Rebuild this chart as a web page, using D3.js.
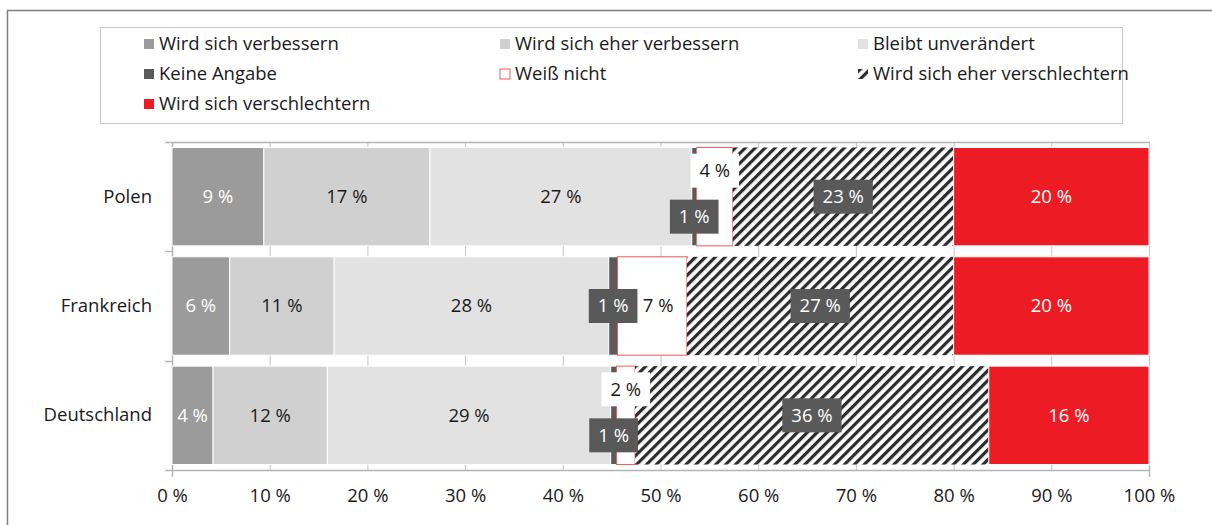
<!DOCTYPE html>
<html>
<head>
<meta charset="utf-8">
<script src="https://cdn.jsdelivr.net/npm/d3@7"></script>
<style>
    body { margin: 0; background: #fff; }
    svg { display: block; font-family: "Open Sans", sans-serif; }
</style>
</head>
<body>
<svg class="chart"></svg>
<script>
// categories and series (percent of respondents)
var categories = ["Polen", "Frankreich", "Deutschland"];
var seriesNames = ["Wird sich verbessern", "Wird sich eher verbessern", "Bleibt unverändert",
    "Keine Angabe", "Weiß nicht", "Wird sich eher verschlechtern", "Wird sich verschlechtern"];

var verbessern = [9.4, 5.9, 4.2];
var eherVerbessern = [17.0, 10.7, 11.7];
var unveraendert = [26.8, 28.1, 29.0];
var keineAngabe = [0.5, 0.9, 0.6];
var weissNicht = [3.7, 7.1, 1.9];
var eherVerschlechtern = [22.6, 27.3, 36.2];
var verschlechtern = [20.0, 20.0, 16.4];

var tickValues = [0, 10, 20, 30, 40, 50, 60, 70, 80, 90, 100];

var width = 1212;
var height = 525;
var fontSize = 18.5;

var seriesData = [verbessern, eherVerbessern, unveraendert, keineAngabe, weissNicht, eherVerschlechtern, verschlechtern];

// look of each series: fill, stroke, label text colour, label box
var looks = [
    { fill: "#9b9b9b", stroke: "#fff", text: "#fff", box: null },
    { fill: "#d0d0d0", stroke: "#fff", text: "#1a1a1a", box: null },
    { fill: "#e2e2e2", stroke: "#fff", text: "#1a1a1a", box: null },
    { fill: "#5a5a5a", stroke: "#fff", text: "#fff", box: "#595959" },
    { fill: "#fff", stroke: "#f0585c", text: "#1a1a1a", box: "#fff" },
    { fill: "url(#hatch)", stroke: "none", text: "#fff", box: "#595959" },
    { fill: "#ed1c24", stroke: "#fff", text: "#fff", box: null }
];

var rows = categories.map(function(c, i) {
    var r = { cat: c };
    seriesNames.forEach(function(s, j) { r[s] = seriesData[j][i]; });
    return r;
});

var stacked = d3.stack().keys(seriesNames)(rows);

var chart = d3.select(".chart")
    .attr("width", width)
    .attr("height", height);

var defs = chart.append("defs");
var hatch = defs.append("pattern")
    .attr("id", "hatch")
    .attr("width", 7)
    .attr("height", 7)
    .attr("patternUnits", "userSpaceOnUse")
    .attr("patternTransform", "rotate(45)");
hatch.append("rect").attr("width", 7).attr("height", 7).attr("fill", "#fff");
hatch.append("rect").attr("width", 3.2).attr("height", 7).attr("fill", "#2b2b2b");

// outer frame
chart.append("rect")
    .attr("x", 7.5).attr("y", 10.5)
    .attr("width", 1240).attr("height", 540)
    .attr("fill", "none")
    .attr("stroke", "#7f7f7f")
    .attr("stroke-width", 1.5);

var x = d3.scaleLinear().domain([0, 100]).range([172, 1149]);
var y = d3.scaleBand().domain(categories).range([142, 470])
    .paddingInner(0.1).paddingOuter(0.05);

// vertical gridlines behind the bars
chart.append("g").selectAll("line.grid")
    .data(tickValues)
    .enter()
    .append("line")
    .attr("class", "grid")
    .attr("x1", function(d) { return x(d) + 0.5; })
    .attr("x2", function(d) { return x(d) + 0.5; })
    .attr("y1", 142).attr("y2", 470)
    .attr("stroke", "#c4c4c4");

// frame lines of the plot
var axisCol = "#b4b4b4";
chart.append("line").attr("x1", 165).attr("x2", x(100) + 1).attr("y1", 142.5).attr("y2", 142.5)
    .attr("stroke", axisCol).attr("stroke-width", 1.5);
chart.append("line").attr("x1", 165).attr("x2", x(100) + 1).attr("y1", 470.5).attr("y2", 470.5)
    .attr("stroke", axisCol).attr("stroke-width", 1.5);
chart.append("line").attr("x1", x(0) + 0.5).attr("x2", x(0) + 0.5).attr("y1", 142).attr("y2", 477)
    .attr("stroke", axisCol).attr("stroke-width", 1.5);
chart.append("line").attr("x1", x(100) + 0.5).attr("x2", x(100) + 0.5).attr("y1", 466).attr("y2", 477)
    .attr("stroke", axisCol).attr("stroke-width", 1.5);

// ticks between categories
var bounds = categories.slice(1).map(function(c) { return y(c) - y.step() * y.paddingInner() / 2; });
chart.append("g").selectAll("line")
    .data(bounds)
    .enter()
    .append("line")
    .attr("x1", 165).attr("x2", x(0))
    .attr("y1", function(d) { return Math.round(d) + 0.5; })
    .attr("y2", function(d) { return Math.round(d) + 0.5; })
    .attr("stroke", axisCol).attr("stroke-width", 1.5);

// bars
var layers = chart.append("g").selectAll("g.layer")
    .data(stacked)
    .enter()
    .append("g")
    .attr("class", "layer");

layers.selectAll("rect")
    .data(function(d) { return d.map(function(p) { return { p: p, i: d.index }; }); })
    .enter()
    .append("rect")
    .attr("x", function(d) { return x(d.p[0]); })
    .attr("y", function(d) { return y(d.p.data.cat); })
    .attr("width", function(d) { return x(d.p[1]) - x(d.p[0]); })
    .attr("height", y.bandwidth())
    .attr("fill", function(d) { return looks[d.i].fill; })
    .attr("stroke", function(d) { return looks[d.i].stroke; })
    .attr("stroke-width", 1);

// labels; the narrow "Weiß nicht" / "Keine Angabe" pair is moved apart
var labelG = chart.append("g").attr("font-size", fontSize);
var order = [0, 1, 2, 5, 6, 4, 3];

categories.forEach(function(c, ci) {
    var cy = y(c) + y.bandwidth() / 2;
    var keineMid = x((stacked[3][ci][0] + stacked[3][ci][1]) / 2);
    var narrow = weissNicht[ci] < 5;
    order.forEach(function(si) {
        var seg = stacked[si][ci];
        var v = seriesData[si][ci];
        var lx = x((seg[0] + seg[1]) / 2);
        var ly = cy;
        if (si === 4) {
            if (narrow) ly = cy - 26;
            else lx = Math.max(lx, keineMid + 45);
        }
        if (si === 3 && narrow) ly = cy + 20;
        var g = labelG.append("g").attr("transform", "translate(" + lx + "," + ly + ")");
        var t = g.append("text")
            .attr("text-anchor", "middle")
            .attr("dy", "0.35em")
            .attr("fill", looks[si].text)
            .text(Math.max(1, Math.round(v)) + " %");
        if (looks[si].box) {
            var bb = t.node().getBBox();
            g.insert("rect", "text")
                .attr("x", -bb.width / 2 - 9)
                .attr("y", -17)
                .attr("width", bb.width + 18)
                .attr("height", 34)
                .attr("fill", looks[si].box);
        }
    });
});

// category labels
var yAxis = chart.append("g")
    .attr("transform", "translate(" + x(0) + ",0)")
    .call(d3.axisLeft(y).tickSize(0).tickPadding(20));
yAxis.select(".domain").remove();
yAxis.selectAll("text").attr("font-size", fontSize).attr("font-family", "Open Sans").attr("fill", "#1a1a1a");

// percent axis labels
var xAxis = chart.append("g")
    .attr("transform", "translate(0,470)")
    .call(d3.axisBottom(x).tickValues(tickValues).tickSize(0).tickPadding(19)
        .tickFormat(function(d) { return d + " %"; }));
xAxis.select(".domain").remove();
xAxis.selectAll("text").attr("font-size", fontSize).attr("font-family", "Open Sans").attr("fill", "#1a1a1a");

// legend
chart.append("rect")
    .attr("x", 100.5).attr("y", 27.5)
    .attr("width", 1022).attr("height", 96)
    .attr("fill", "#fff")
    .attr("stroke", "#c6c6c6");

var legendCols = [159, 515, 873];
var legend = chart.append("g").selectAll("g.leg")
    .data(seriesNames)
    .enter()
    .append("g")
    .attr("class", "leg")
    .attr("transform", function(d, i) {
        return "translate(" + legendCols[i % 3] + "," + (44 + Math.floor(i / 3) * 30) + ")";
    });

legend.append("rect")
    .attr("x", -15).attr("y", -5)
    .attr("width", 10).attr("height", 10)
    .attr("fill", function(d, i) { return looks[i].fill; })
    .attr("stroke", function(d, i) { return i === 4 ? looks[i].stroke : "none"; });

legend.append("text")
    .attr("dy", "0.35em")
    .attr("font-size", fontSize)
    .attr("fill", "#1a1a1a")
    .text(function(d) { return d; });
</script>
</body>
</html>
